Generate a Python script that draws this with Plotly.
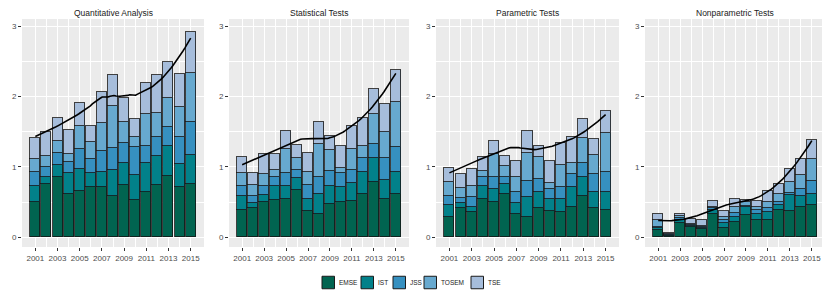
import numpy as np
import plotly.graph_objects as go

years = list(range(2001, 2016))
series = ["EMSE", "IST", "JSS", "TOSEM", "TSE"]
colors = ["#016450", "#02818a", "#3690c0", "#67a9cf", "#a6bddb"]
panels = ["Quantitative Analysis", "Statistical Tests", "Parametric Tests", "Nonparametric Tests"]

# cumulative tops (EMSE, +IST, +JSS, +TOSEM, +TSE)
qa_cum = {
    "EMSE":  [0.50, 0.75, 0.86, 0.61, 0.66, 0.71, 0.71, 0.59, 0.74, 0.535, 0.64, 0.74, 0.87, 0.71, 0.75],
    "IST":   [0.73, 0.85, 1.02, 0.91, 0.975, 0.92, 0.93, 0.95, 1.06, 0.88, 1.05, 1.16, 1.30, 1.04, 1.17],
    "JSS":   [0.93, 1.00, 1.20, 1.07, 1.25, 1.11, 1.22, 1.27, 1.34, 1.28, 1.29, 1.43, 1.56, 1.43, 1.64],
    "TOSEM": [1.11, 1.155, 1.37, 1.18, 1.585, 1.36, 1.62, 1.87, 1.64, 1.43, 1.75, 1.77, 1.98, 1.855, 2.33],
    "TSE":   [1.415, 1.49, 1.70, 1.52, 1.90, 1.58, 2.06, 2.30, 1.98, 1.68, 2.19, 2.30, 2.49, 2.32, 2.92],
}
st_cum = {
    "EMSE":  [0.39, 0.41, 0.50, 0.535, 0.55, 0.67, 0.38, 0.33, 0.47, 0.50, 0.52, 0.61, 0.78, 0.55, 0.615],
    "IST":   [0.58, 0.49, 0.60, 0.73, 0.73, 0.84, 0.54, 0.615, 0.73, 0.71, 0.77, 0.93, 1.13, 0.82, 0.93],
    "JSS":   [0.73, 0.58, 0.73, 0.86, 0.91, 0.96, 0.74, 0.86, 0.94, 0.91, 0.96, 1.12, 1.33, 1.12, 1.28],
    "TOSEM": [0.91, 0.74, 0.90, 0.955, 1.25, 1.13, 0.93, 1.32, 1.245, 0.98, 1.26, 1.29, 1.755, 1.49, 1.92],
    "TSE":   [1.14, 0.92, 1.18, 1.18, 1.505, 1.31, 1.20, 1.64, 1.44, 1.30, 1.58, 1.69, 2.10, 1.89, 2.375],
}
pt_cum = {
    "EMSE":  [0.29, 0.41, 0.355, 0.54, 0.50, 0.62, 0.33, 0.29, 0.42, 0.38, 0.36, 0.435, 0.59, 0.42, 0.385],
    "IST":   [0.46, 0.48, 0.435, 0.73, 0.68, 0.76, 0.49, 0.57, 0.65, 0.54, 0.545, 0.71, 0.86, 0.65, 0.65],
    "JSS":   [0.59, 0.555, 0.57, 0.86, 0.85, 0.85, 0.65, 0.80, 0.83, 0.69, 0.72, 0.895, 1.05, 0.895, 0.93],
    "TOSEM": [0.78, 0.705, 0.73, 0.94, 1.18, 1.01, 0.86, 1.20, 1.135, 0.77, 1.03, 1.06, 1.415, 1.165, 1.48],
    "TSE":   [0.99, 0.90, 0.975, 1.135, 1.37, 1.16, 1.08, 1.51, 1.29, 1.08, 1.335, 1.43, 1.68, 1.40, 1.80],
}
np_cum = {
    "EMSE":  [0.10, 0.02, 0.21, 0.15, 0.12, 0.33, 0.13, 0.22, 0.32, 0.245, 0.24, 0.39, 0.38, 0.425, 0.465],
    "IST":   [0.13, 0.03, 0.245, 0.165, 0.13, 0.39, 0.20, 0.29, 0.425, 0.335, 0.355, 0.46, 0.60, 0.585, 0.62],
    "JSS":   [0.15, 0.04, 0.28, 0.175, 0.145, 0.41, 0.24, 0.345, 0.45, 0.39, 0.415, 0.50, 0.635, 0.685, 0.795],
    "TOSEM": [0.24, 0.05, 0.30, 0.185, 0.16, 0.435, 0.29, 0.435, 0.50, 0.425, 0.50, 0.61, 0.785, 0.885, 1.11],
    "TSE":   [0.33, 0.06, 0.33, 0.26, 0.24, 0.515, 0.38, 0.54, 0.53, 0.51, 0.66, 0.75, 0.97, 1.115, 1.38],
}
panel_data = [qa_cum, st_cum, pt_cum, np_cum]


def loess(x, y, xs, span=0.75):
    x = np.asarray(x, float)
    y = np.asarray(y, float)
    n = len(x)
    q = int(np.floor(n * span))
    out = []
    for x0 in xs:
        d = np.abs(x - x0)
        dq = np.sort(d)[q - 1]
        w = np.clip(1 - (d / dq) ** 3, 0, None) ** 3
        X = np.vstack([np.ones(n), x - x0, (x - x0) ** 2]).T
        Wm = np.diag(w)
        beta = np.linalg.lstsq(X.T @ Wm @ X, X.T @ Wm @ y, rcond=None)[0]
        out.append(beta[0])
    return np.array(out)


# the page body has an 8px margin, so the figure is drawn 8px in from the window corner
OFF = 8
W, H = 830 - OFF, 293 - OFF
xdoms = [(22, 204), (229, 409), (436, 619), (645, 825)]
ytop, ybot = 19, 247
y0px, y3px = 237.3, 26.0          # window rows of y=0 and y=3
unit = (y0px - y3px) / 3
yrange = [-(ybot - y0px) / unit, 3 + (y3px - ytop) / unit]
font = "Liberation Sans, Arial, sans-serif"
outline = "rgba(20,20,20,0.8)"


def px(x):
    return (x - OFF) / W


def py(y):
    return 1 - (y - OFF) / H


fig = go.Figure()
for p, (name, cum) in enumerate(zip(panels, panel_data)):
    xa = "x" if p == 0 else f"x{p+1}"
    ya = "y" if p == 0 else f"y{p+1}"
    prev = [0.0] * len(years)
    for s, c in zip(series, colors):
        vals = [round(t - b, 4) for t, b in zip(cum[s], prev)]
        prev = cum[s]
        fig.add_trace(go.Bar(
            x=years, y=vals, name=s, xaxis=xa, yaxis=ya,
            marker=dict(color=c, line=dict(color=outline, width=1)),
            width=0.9, legendgroup=s, showlegend=False,
        ))
    xs = np.linspace(2001, 2015, 80)
    ys = loess(years, cum["TSE"], xs)
    fig.add_trace(go.Scatter(x=xs, y=ys, mode="lines", xaxis=xa, yaxis=ya,
                             line=dict(color="black", width=1.6), showlegend=False,
                             hoverinfo="skip"))

    suf = "" if p == 0 else str(p + 1)
    x0, x1 = xdoms[p]
    fig.layout[f"xaxis{suf}"] = dict(
        domain=[px(x0), px(x1)], anchor=ya, range=[1999.8, 2016.2],
        tickmode="array", tickvals=list(range(2001, 2016, 2)),
        ticks="outside", ticklen=3, tickcolor="#333333", tickwidth=1,
        tickfont=dict(size=8, color="#4d4d4d", family=font),
        showgrid=True, gridcolor="white", gridwidth=1,
        minor=dict(tickvals=list(range(2002, 2016, 2)), showgrid=True,
                   gridcolor="white", gridwidth=0.5, ticks=""),
        zeroline=False, showline=False, fixedrange=True, automargin=False,
    )
    fig.layout[f"yaxis{suf}"] = dict(
        domain=[py(ybot), py(ytop)], anchor=xa, range=yrange,
        tickvals=[0, 1, 2, 3], ticktext=["0", "1", "2", "3"],
        ticks="outside", ticklen=3, tickcolor="#333333", tickwidth=1,
        tickfont=dict(size=8, color="#4d4d4d", family=font),
        showgrid=True, gridcolor="white", gridwidth=1,
        minor=dict(tickvals=[0.5, 1.5, 2.5], showgrid=True,
                   gridcolor="white", gridwidth=0.5, ticks=""),
        zeroline=False, showline=False, fixedrange=True, automargin=False,
    )
    fig.add_shape(type="rect", xref="paper", yref="paper",
                  x0=px(x0), x1=px(x1), y0=py(ybot), y1=py(ytop),
                  fillcolor="#ebebeb", line=dict(width=0), layer="below")
    fig.add_annotation(text=name, xref="paper", yref="paper",
                       x=px((x0 + x1) / 2), y=py(13.5), showarrow=False,
                       font=dict(size=8.5, color="#1a1a1a", family=font),
                       xanchor="center", yanchor="middle", borderpad=0)

# legend (bottom, centred): key squares + labels
key_left = [322, 361, 393, 424, 471]
key_size = 12.5
key_cy = 282.5
for s, c, kx in zip(series, colors, key_left):
    fig.add_shape(type="rect", xref="paper", yref="paper",
                  x0=px(kx), x1=px(kx + key_size),
                  y0=py(key_cy + key_size / 2), y1=py(key_cy - key_size / 2),
                  fillcolor=c, line=dict(color="#1a1a1a", width=1))
    fig.add_annotation(text=s, xref="paper", yref="paper",
                       x=px(kx + key_size + 2), y=py(key_cy), showarrow=False,
                       xanchor="left", yanchor="middle",
                       font=dict(size=6.5, color="#1a1a1a", family=font))

fig.update_layout(
    width=W, height=H, barmode="stack", bargap=0,
    paper_bgcolor="white", plot_bgcolor="rgba(0,0,0,0)",
    margin=dict(l=0, r=0, t=0, b=0, autoexpand=False),
    font=dict(family=font),
    showlegend=False,
)
fig.write_html("out.html")
